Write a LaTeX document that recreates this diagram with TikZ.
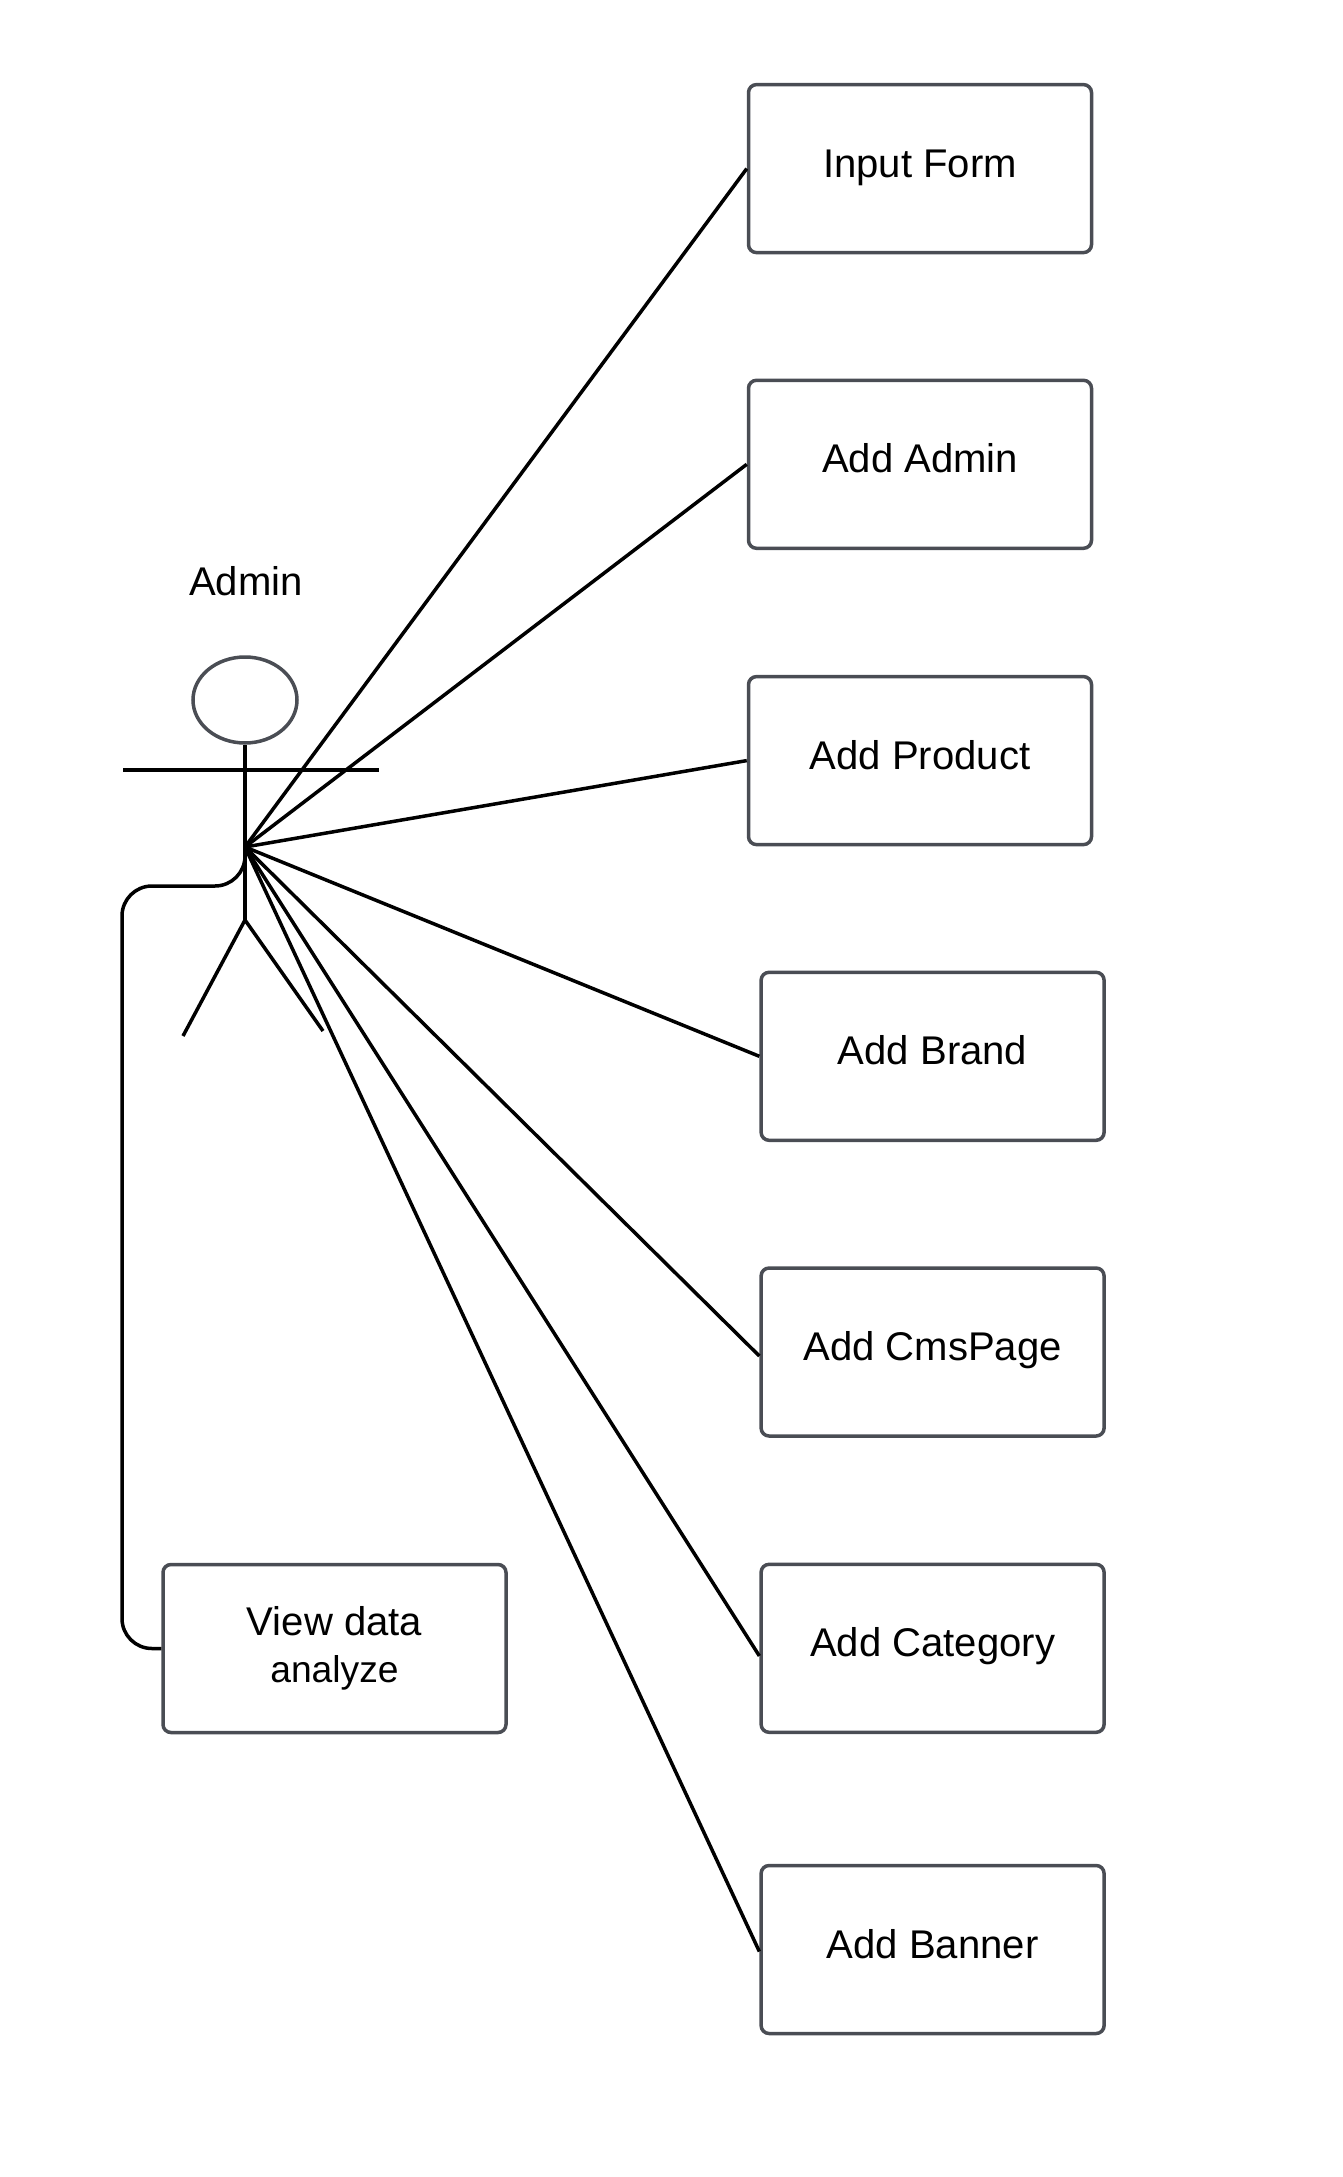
\documentclass[tikz,border=0pt]{standalone}
\usepackage{fontspec}
\setmainfont{Liberation Sans}
\usetikzlibrary{shapes.geometric}
\definecolor{boxgray}{HTML}{4A4D54}
\newcommand{\labelsize}{\fontsize{11.4}{13.6}\selectfont}
\tikzset{
    casebox/.style={draw=boxgray, line width=.035cm, rounded corners=.08cm,
        minimum width=3.43cm, minimum height=1.68cm, inner sep=0,
        font=\labelsize},
    usecase/.style={casebox, text height=.29cm, text depth=.12cm},
    link/.style={line width=.035cm, draw=black}
}

\begin{document}
\begin{tikzpicture}[y=-1cm]
\useasboundingbox (0,0) rectangle (13.42,21.77);

% actor
\node[font=\labelsize] (adminlabel) at (2.46,5.81){Admin};
\node[draw=boxgray, line width=.035cm, ellipse, minimum width=1.04cm,
    minimum height=.86cm, inner sep=0] (head) at (2.45,7){};
\coordinate (hub) at (2.45,8.47);
\coordinate (crotch) at (2.45,9.2);
\coordinate (handL) at (1.23,7.7);
\coordinate (handR) at (3.79,7.7);
\coordinate (footL) at (1.83,10.36);
\coordinate (footR) at (3.23,10.31);
\draw[link] (head.south) -- (crotch);
\draw[link] (handL) -- (handR);
\draw[link] (footL) -- (crotch) -- (footR);

% use cases on the right
\node[usecase] (inputform) at (9.2,1.686){Input Form};
\node[usecase] (addadmin) at (9.2,4.643){Add Admin};
\node[usecase] (addproduct) at (9.2,7.606){Add Product};
\node[usecase] (addbrand) at (9.326,10.563){Add Brand};
\node[usecase] (addcmspage) at (9.326,13.52){Add CmsPage};
\node[usecase] (addcategory) at (9.326,16.483){Add Category};
\node[usecase] (addbanner) at (9.326,19.495){Add Banner};

% use case on the left
\node[casebox, align=center] (viewdata) at (3.345,16.485)
    {View data\\[-.01cm]{\fontsize{10.6}{12}\selectfont analyze}};

% links
\draw[link] (hub) -- (inputform.west);
\draw[link] (hub) -- (addadmin.west);
\draw[link] (hub) -- (addproduct.west);
\draw[link] (hub) -- (addbrand.west);
\draw[link] (hub) -- ([yshift=-.04cm]addcmspage.west);
\draw[link] (hub) -- ([yshift=-.076cm]addcategory.west);
\draw[link] (hub) -- ([yshift=-.02cm]addbanner.west);
\coordinate (bend) at (1.22,8.86);
\draw[link, rounded corners=.3cm] (hub) |- (bend) |- (viewdata.west);

\end{tikzpicture}
\end{document}
